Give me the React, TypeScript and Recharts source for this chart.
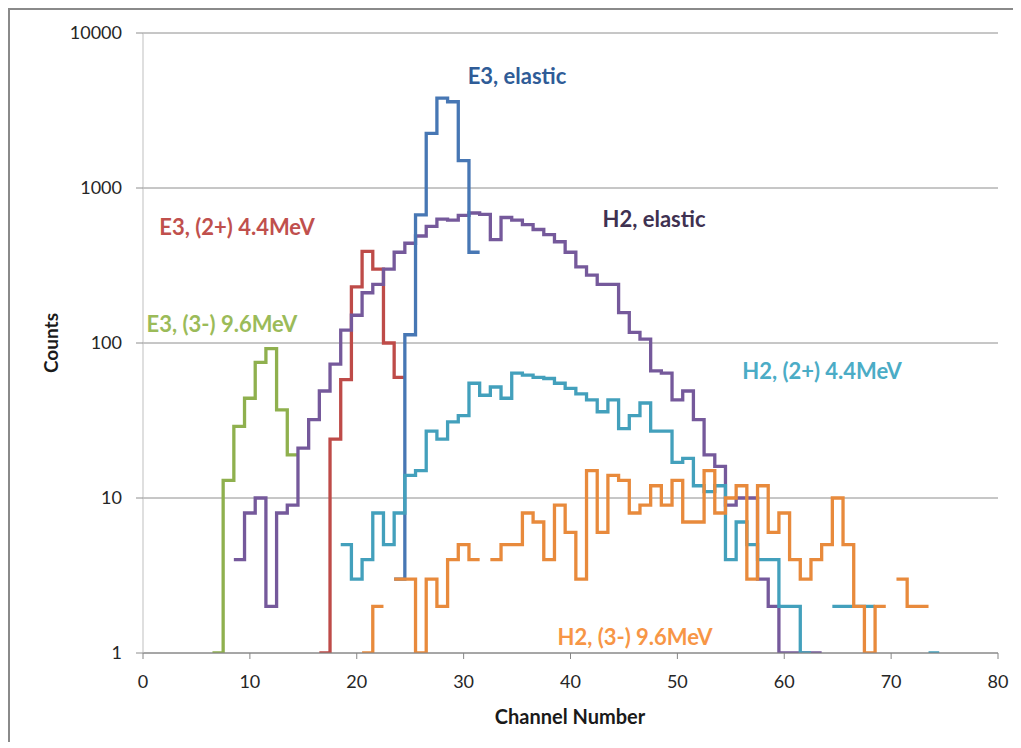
import { LineChart, Line, XAxis, YAxis, CartesianGrid } from 'recharts';

// counts per channel, starting at the given first channel (null = empty bin)
const E3_ELASTIC_START = 24;
const E3_ELASTIC = [3, 113, 670, 2250, 3800, 3600, 1500, 385];

const E3_2PLUS_START = 17;
const E3_2PLUS = [1, 24, 58, 230, 390, 300, 100, 60];

const E3_3MINUS_START = 7;
const E3_3MINUS = [1, 13, 29, 44, 75, 92, 37, 19];

const H2_ELASTIC_START = 9;
const H2_ELASTIC = [
  4, 8, 10, 2, 8, 9, 21, 32, 49, 73, 121, 151, 211, 239, 300, 385, 440, 490, 565, 630,
  620, 665, 690, 675, 465, 645, 620, 580, 540, 500, 450, 385, 310, 274, 239, 239, 157, 117, 106, 66,
  64, 43, 49, 32, 19, 16, 9, 10, 10, 3, 2, 1, 1, 1, 1,
];

const H2_2PLUS_START = 19;
const H2_2PLUS: (number | null)[] = [
  5, 3, 4, 8, 5, 8, 14, 15, 27, 24, 31, 34, 55, 46, 52, 44, 64, 62, 60, 59,
  55, 51, 47, 43, 36, 43, 28, 34, 41, 27, 27, 17, 18, 12, 11, 12, 4, 7, 5, 4,
  4, 2, 2, 1, null, null, 2, 2, 2, 2, null, null, null, null, null, 1,
];

const H2_3MINUS_START = 21;
const H2_3MINUS: (number | null)[] = [
  1, 2, null, 3, 3, 1, 3, 2, 4, 5, 4, null, 4, 5, 5, 8, 7, 4, 9, 6,
  3, 15, 6, 14, 13, 8, 9, 12, 9, 13, 7, 7, 15, 8, 10, 12, 3, 12, 6, 8,
  4, 3, 4, 5, 10, 5, 2, 1, 2, null, 3, 2, 2,
];

const X_TICKS = [0, 10, 20, 30, 40, 50, 60, 70, 80];
const Y_TICKS = [1, 10, 100, 1000, 10000];

// histogram bins -> outline points (each bin spans channel-0.5 .. channel+0.5)
function toSteps(start: number, counts: (number | null)[]) {
  const pts: { x: number; y: number | null }[] = [];
  counts.forEach((v, i) => {
    const c = start + i;
    if (v === null) {
      pts.push({ x: c, y: null });
    } else {
      pts.push({ x: c - 0.5, y: v });
      pts.push({ x: c + 0.5, y: v });
    }
  });
  return pts;
}

const SERIES = [
  { name: 'E3, (2+) 4.4MeV', data: toSteps(E3_2PLUS_START, E3_2PLUS), color: '#BE4B48' },
  { name: 'E3, (3-) 9.6MeV', data: toSteps(E3_3MINUS_START, E3_3MINUS), color: '#8FB04E' },
  { name: 'H2, elastic', data: toSteps(H2_ELASTIC_START, H2_ELASTIC), color: '#75599B' },
  { name: 'E3, elastic', data: toSteps(E3_ELASTIC_START, E3_ELASTIC), color: '#4777B4' },
  { name: 'H2, (2+) 4.4MeV', data: toSteps(H2_2PLUS_START, H2_2PLUS), color: '#43A0BC' },
  { name: 'H2, (3-) 9.6MeV', data: toSteps(H2_3MINUS_START, H2_3MINUS), color: '#E88A3C' },
];

const NOTES = [
  { text: 'E3, elastic', color: '#2F5C97', left: 507, top: 65 },
  { text: 'H2, elastic', color: '#3F3151', left: 644, top: 208 },
  { text: 'E3, (2+) 4.4MeV', color: '#C0504D', left: 227, top: 216 },
  { text: 'E3, (3-) 9.6MeV', color: '#9BBB59', left: 212, top: 313 },
  { text: 'H2, (2+) 4.4MeV', color: '#4BACC6', left: 812, top: 360 },
  { text: 'H2, (3-) 9.6MeV', color: '#F79646', left: 625, top: 626 },
];

const tickStyle = { fill: '#262626', fontSize: 18, fontFamily: 'Lato' };

export default function App() {
  return (
    <div
      style={{
        position: 'relative',
        width: 1005,
        height: 732,
        borderLeft: '2px solid #8a8a8a',
        borderTop: '2px solid #8a8a8a',
        fontFamily: 'Lato, sans-serif',
        background: '#fff',
      }}
    >
      <LineChart width={1005} height={732} margin={{ top: 23, right: 17, bottom: 29, left: 43 }}>
        <CartesianGrid vertical={false} stroke="#8E8E8E" />
        <XAxis
          dataKey="x"
          type="number"
          domain={[0, 80]}
          ticks={X_TICKS}
          allowDataOverflow
          height={60}
          tick={tickStyle}
          tickSize={6}
          tickMargin={16}
          stroke="#868686"
        />
        <YAxis
          type="number"
          scale="log"
          domain={[1, 10000]}
          ticks={Y_TICKS}
          allowDataOverflow
          width={90}
          tick={tickStyle}
          tickSize={7}
          tickMargin={14}
          axisLine={{ stroke: '#BFBFBF' }}
          tickLine={{ stroke: '#8E8E8E' }}
        />
        {SERIES.map(s => (
          <Line
            key={s.name}
            name={s.name}
            data={s.data}
            dataKey="y"
            type="linear"
            stroke={s.color}
            strokeWidth={3.3}
            dot={false}
            activeDot={false}
            connectNulls={false}
            isAnimationActive={false}
          />
        ))}
      </LineChart>
      {NOTES.map(n => (
        <div
          key={n.text}
          style={{
            position: 'absolute',
            left: n.left,
            top: n.top,
            transform: 'translate(-50%, -50%)',
            color: n.color,
            fontWeight: 700,
            fontSize: 22,
            whiteSpace: 'nowrap',
          }}
        >
          {n.text}
        </div>
      ))}
      <div
        style={{
          position: 'absolute',
          left: 40,
          top: 333,
          transform: 'translate(-50%, -50%) rotate(-90deg)',
          fontWeight: 700,
          fontSize: 19,
          color: '#1a1a1a',
        }}
      >
        Counts
      </div>
      <div
        style={{
          position: 'absolute',
          left: 560,
          top: 706,
          transform: 'translate(-50%, -50%)',
          fontWeight: 700,
          fontSize: 20,
          color: '#1a1a1a',
          whiteSpace: 'nowrap',
        }}
      >
        Channel Number
      </div>
    </div>
  );
}
